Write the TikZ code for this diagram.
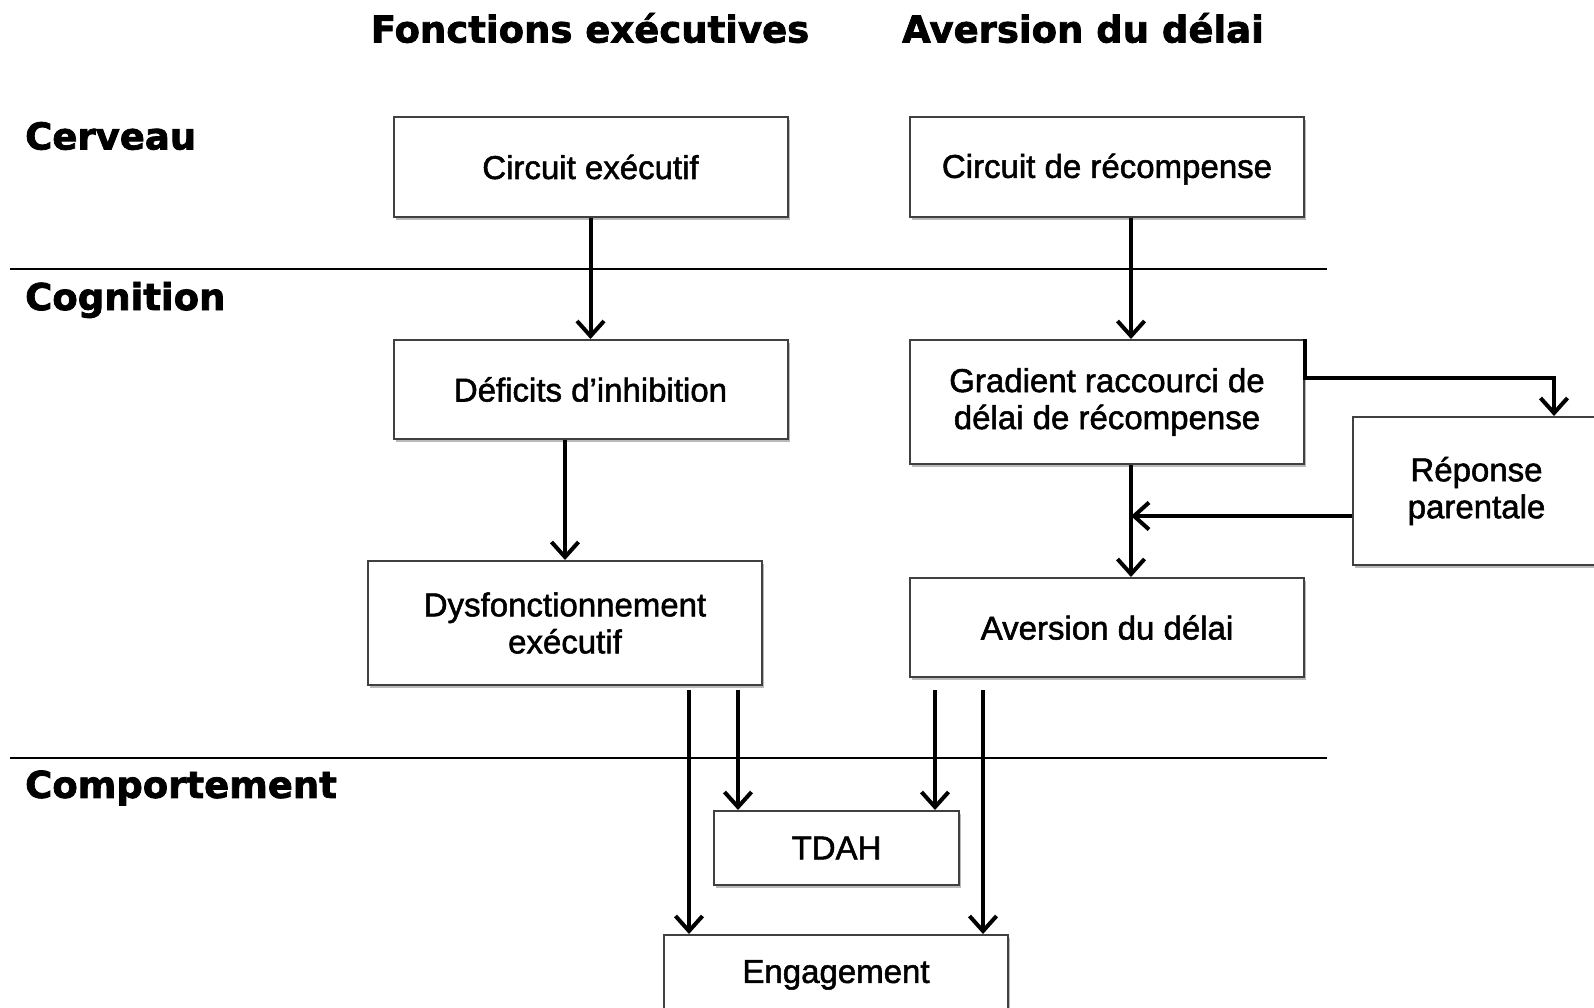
\documentclass[tikz,border=0pt]{standalone}
\usepackage{fontspec}
\setmainfont{Liberation Sans}
\newfontfamily\boxfont{Liberation Sans}[FakeBold=1.6]
\newfontfamily\headfont{DejaVu Sans}[BoldFeatures={FakeBold=2}]
\usetikzlibrary{arrows.meta,shadows}

\begin{document}
\begin{tikzpicture}[x=1pt,y=-1pt,
  box/.style={draw=black!75,line width=2pt,fill=white,align=center,
    font=\boxfont\fontsize{33}{37}\selectfont,inner sep=0pt,
    drop shadow={shadow xshift=2pt,shadow yshift=-3pt,fill=black!45,opacity=.6}},
  wbox/.style={box,minimum width=394pt,minimum height=#1},
  head/.style={font=\headfont\bfseries\fontsize{37}{40}\selectfont},
  row/.style={head,anchor=west,inner sep=0pt},
  sep/.style={line width=2pt},
  arr/.style={line width=4pt,-{Straight Barb[length=15pt,width=27pt]}}]

\useasboundingbox (0,0) rectangle (1594,1008);

% Column headers.
\node[head] (hfe) at (590,28) {Fonctions exécutives};
\node[head] (had) at (1083,28) {Aversion du délai};

% Level labels.
\node[row] (lcer) at (25,136) {Cerveau};
\node[row] (lcog) at (25,300) {Cognition};
\node[row] (lcom) at (25,788) {Comportement};

% Level separators.
\draw[sep] (10,269) -- (1327,269);
\draw[sep] (10,758) -- (1327,758);

% Boxes.
\node[wbox=100pt] (cexe) at (590.5,167) {Circuit exécutif};
\node[wbox=100pt] (crec) at (1107,167) {Circuit de récompense\vphantom{É}};
\node[wbox=99pt]  (defi) at (590.5,389.5) {Déficits d’inhibition};
\node[wbox=124pt] (grad) at (1107,402) {Gradient raccourci de\\délai de récompense};
\node[box,minimum width=247pt,minimum height=148pt] (repo) at (1476.5,491) {Réponse\\parentale};
\node[wbox=124pt] (dysf) at (565,623) {Dysfonctionnement\\exécutif};
\node[wbox=99pt]  (aver) at (1107,627.5) {Aversion du délai};
\node[box,minimum width=245pt,minimum height=74pt] (tdah) at (836.5,848) {TDAH};
\node[box,minimum width=344pt,minimum height=74pt] (enga) at (836,972) {Engagement\vphantom{É}};

% Vertical links.
\draw[arr] (cexe.south) -- (defi.north);
\draw[arr] ([xshift=24pt]crec.south) -- ([xshift=24pt]grad.north);
\draw[arr] (defi.south -| dysf.north) -- (dysf.north);
\coordinate (gline) at ([xshift=24pt]grad.south);
\draw[arr] (gline) -- (gline |- aver.north);

% Parental response loop.
\coordinate (gbend) at (1554,378);
\draw[arr] (grad.north east) |- (gbend) -- (gbend |- repo.north);
\draw[arr] ([yshift=-25pt]repo.west) -- ([yshift=-25pt]repo.west -| gline);

% Towards behaviour.
\draw[arr] ([xshift=124pt,yshift=-4pt]dysf.south) -- ([xshift=124pt]dysf.south |- enga.north);
\draw[arr] ([xshift=173pt,yshift=-4pt]dysf.south) -- ([xshift=173pt]dysf.south |- tdah.north);
\draw[arr] ([xshift=-172pt,yshift=-12pt]aver.south) -- ([xshift=-172pt]aver.south |- tdah.north);
\draw[arr] ([xshift=-124pt,yshift=-12pt]aver.south) -- ([xshift=-124pt]aver.south |- enga.north);
\end{tikzpicture}
\end{document}
